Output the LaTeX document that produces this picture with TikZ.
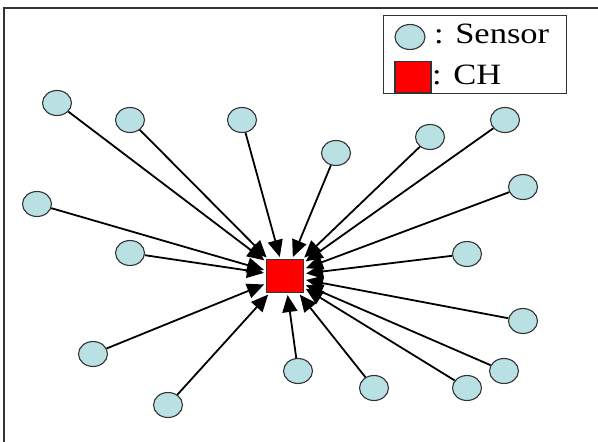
\documentclass[tikz,border=0pt]{standalone}
\usepackage{fontspec}
\setmainfont{Liberation Serif}
\usetikzlibrary{arrows.meta,shapes.geometric}
\definecolor{sensorfill}{HTML}{B9E0E3}
\definecolor{edgegray}{HTML}{333333}
\begin{document}
\begin{tikzpicture}[x=1pt,y=-1pt,
  sensor/.style={ellipse, draw=edgegray, line width=1.1pt, fill=sensorfill,
    minimum width=29pt, minimum height=25pt, inner sep=0pt},
  head/.style={rectangle, draw=edgegray, line width=1.1pt, fill=red,
    minimum width=37pt, minimum height=33pt, inner sep=0pt},
  link/.style={line width=1.8pt, color=black, shorten >=2pt,
    -{Triangle[length=17pt,width=15pt]}},
  legendtext/.style={anchor=base west, inner sep=0pt, font=\fontsize{29.5}{30}\selectfont},
  frameline/.style={line width=2pt, color=edgegray}]
\useasboundingbox (0,0) rectangle (598,442);
\fill[white] (0,0) rectangle (598,442);
% outer frame (left and top edges)
\draw[frameline] (4,460) -- (4,8) -- (620,8);

% cluster head
\node[head] (ch) at (285,276) {};

% sensors
\node[sensor] (s1)  at (57,103)  {};
\node[sensor] (s2)  at (130,120) {};
\node[sensor] (s3)  at (242,120) {};
\node[sensor] (s4)  at (336,153) {};
\node[sensor] (s5)  at (430,137) {};
\node[sensor] (s6)  at (505,120) {};
\node[sensor] (s7)  at (523,187) {};
\node[sensor] (s8)  at (37,204)  {};
\node[sensor] (s9)  at (130,253) {};
\node[sensor] (s10) at (467,254) {};
\node[sensor] (s11) at (523,321) {};
\node[sensor] (s12) at (93,354)  {};
\node[sensor] (s13) at (298,371) {};
\node[sensor] (s14) at (374,388) {};
\node[sensor] (s15) at (467,388) {};
\node[sensor] (s16) at (504,371) {};
\node[sensor] (s17) at (168,405) {};

% links from every sensor to the cluster head
\foreach \s in {s1,s2,s3,s4,s5,s6,s7,s8,s9,s10,s11,s12,s13,s14,s15,s16,s17}
  \draw[link] (\s) -- (ch);

% legend
\node[draw=edgegray, line width=1.2pt, minimum width=183pt, minimum height=78pt,
  inner sep=0pt, anchor=north west] (legend) at (383,15) {};
\node[sensor, minimum width=30pt] (legsensor) at (410,37) {};
\node[head, minimum width=36pt, minimum height=31pt] (leghead) at (413,77) {};
\node[legendtext] (lab1) at (434,43) {\scalebox{1.17}[1]{: Sensor}};
\node[legendtext] (lab2) at (432,84) {\scalebox{1.17}[1]{: CH}};
\end{tikzpicture}
\end{document}
